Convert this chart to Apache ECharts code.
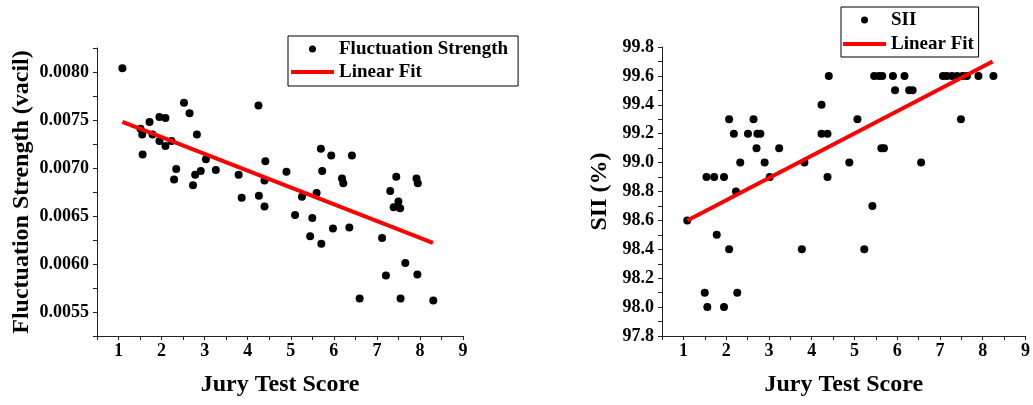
<!DOCTYPE html>
<html>
<head>
<meta charset="utf-8">
<script src="https://cdn.jsdelivr.net/npm/echarts@6/dist/echarts.min.js"></script>
<style>
html,body{margin:0;padding:0;background:#fff;}
#chart{width:1033px;height:405px;}
</style>
</head>
<body>
<div id="chart"></div>
<script>
// ---- Left panel: Fluctuation Strength vs Jury Test Score ----
const fsJury = [1.09,1.51,1.55,1.56,1.72,1.79,1.95,1.95,2.09,2.09,2.23,2.29,2.34,2.52,2.65,2.73,2.78,2.82,2.91,3.03,3.26,3.79,3.86,4.25,4.26,4.39,4.39,4.41,4.90,5.10,5.26,5.45,5.50,5.60,5.70,5.71,5.73,5.94,5.98,6.19,6.22,6.36,6.42,6.60,7.12,7.21,7.31,7.39,7.45,7.50,7.54,7.55,7.66,7.92,7.94,7.95,8.31];
const fsValue = [0.00804,0.00741,0.00735,0.00714,0.00748,0.00735,0.00753,0.00728,0.00752,0.00723,0.00728,0.00688,0.00699,0.00768,0.00757,0.00682,0.00693,0.00735,0.00697,0.00709,0.00698,0.00693,0.00669,0.00765,0.00671,0.00660,0.00687,0.00707,0.00696,0.00651,0.00670,0.00629,0.00648,0.00674,0.00720,0.00621,0.00697,0.00713,0.00637,0.00689,0.00684,0.00638,0.00713,0.00564,0.00627,0.00588,0.00676,0.00659,0.00691,0.00665,0.00658,0.00564,0.00601,0.00689,0.00589,0.00684,0.00562];
const fsFitX = [1.09, 8.30];
const fsFitY = [0.00748, 0.00622];

// ---- Right panel: SII vs Jury Test Score ----
const siiJury = [1.09,1.50,1.54,1.56,1.72,1.78,1.95,1.95,2.07,2.07,2.18,2.23,2.26,2.33,2.51,2.64,2.71,2.73,2.80,2.90,3.02,3.24,3.77,3.83,4.23,4.23,4.37,4.37,4.40,4.88,5.07,5.23,5.42,5.46,5.57,5.65,5.63,5.69,5.90,5.95,6.17,6.28,6.36,6.56,7.07,7.16,7.28,7.40,7.49,7.53,7.63,7.90,8.25];
const siiValue = [98.6,98.1,98.9,98.0,98.9,98.5,98.9,98.0,99.3,98.4,99.2,98.8,98.1,99.0,99.2,99.3,99.1,99.2,99.2,99.0,98.9,99.1,98.4,99.0,99.4,99.2,99.2,98.9,99.6,99.0,99.3,98.4,98.7,99.6,99.6,99.6,99.1,99.1,99.6,99.5,99.6,99.5,99.5,99.0,99.6,99.6,99.6,99.6,99.3,99.6,99.6,99.6,99.6];
const siiFitX = [1.09, 8.23];
const siiFitY = [98.60, 99.70];

const xTickLabels = [1,2,3,4,5,6,7,8,9];

const FONT = "'Liberation Serif','Times New Roman',serif";
const zip = (a, b) => a.map((v, i) => [v, b[i]]);
const LINE_ICON = 'path://M0,0H43V4H0Z';

function xAxisCfg(gridIndex) {
  return {
    gridIndex, type: 'value', min: 0.5, max: 9, interval: 0.5,
    name: 'Jury Test Score', nameLocation: 'middle', nameGap: 37,
    nameTextStyle: {fontFamily: FONT, fontWeight: 'bold', fontSize: 24, color: '#000'},
    axisLine: {show: true, onZero: false, lineStyle: {color: '#222', width: 1}},
    axisTick: {show: true, length: 4, lineStyle: {color: '#222'}},
    splitLine: {show: false},
    axisLabel: {
      fontFamily: FONT, fontWeight: 'bold', fontSize: 18, color: '#000', margin: 6,
      showMinLabel: true, showMaxLabel: true,
      formatter: v => (xTickLabels.indexOf(Math.round(v * 100) / 100) >= 0 ? String(Math.round(v)) : '')
    }
  };
}

const option = {
  animation: false,
  backgroundColor: '#fff',
  grid: [
    {left: 97, top: 48, width: 366, height: 288},
    {left: 662, top: 47, width: 367, height: 289}
  ],
  xAxis: [xAxisCfg(0), xAxisCfg(1)],
  yAxis: [
    {
      gridIndex: 0, type: 'value', min: 0.00525, max: 0.00825, interval: 0.00025,
      name: 'Fluctuation Strength (vacil)', nameLocation: 'middle', nameGap: 63,
      nameTextStyle: {fontFamily: FONT, fontWeight: 'bold', fontSize: 24, color: '#000'},
      axisLine: {show: true, onZero: false, lineStyle: {color: '#222', width: 1}},
      axisTick: {show: true, length: 4, lineStyle: {color: '#222'}},
      splitLine: {show: false},
      axisLabel: {
        fontFamily: FONT, fontWeight: 'bold', fontSize: 18, color: '#000', margin: 8,
        formatter: v => { const k = v / 0.0005; return Math.abs(k - Math.round(k)) < 1e-6 ? v.toFixed(4) : ''; }
      }
    },
    {
      gridIndex: 1, type: 'value', min: 97.8, max: 99.8, interval: 0.1,
      name: 'SII (%)', nameLocation: 'middle', nameGap: 50,
      nameTextStyle: {fontFamily: FONT, fontWeight: 'bold', fontSize: 24, color: '#000'},
      axisLine: {show: true, onZero: false, lineStyle: {color: '#222', width: 1}},
      axisTick: {show: true, length: 4, lineStyle: {color: '#222'}},
      splitLine: {show: false},
      axisLabel: {
        fontFamily: FONT, fontWeight: 'bold', fontSize: 18, color: '#000', margin: 8,
        showMinLabel: true, showMaxLabel: true,
        formatter: v => (Math.round(v * 10) % 2 === 0 ? v.toFixed(1) : '')
      }
    }
  ],
  legend: [
    {
      data: ['Fluctuation Strength', {name: 'Linear Fit', icon: LINE_ICON}],
      orient: 'vertical', left: 288, top: 36,
      padding: [3, 10, 4, 3], itemGap: 3,
      itemWidth: 43, itemHeight: 7,
      borderColor: '#000', borderWidth: 1, borderRadius: 0,
      textStyle: {fontFamily: FONT, fontWeight: 'bold', fontSize: 19, color: '#000', lineHeight: 20},
      selectedMode: false
    },
    {
      data: ['SII', {name: 'Linear Fit ', icon: LINE_ICON}],
      orient: 'vertical', left: 841, top: 7,
      padding: [3, 0, 3, 2], itemGap: 4,
      itemWidth: 43, itemHeight: 7,
      borderColor: '#000', borderWidth: 1, borderRadius: 0,
      textStyle: {fontFamily: FONT, fontWeight: 'bold', fontSize: 19, color: '#000', lineHeight: 20},
      selectedMode: false
    }
  ],
  series: [
    {
      name: 'Fluctuation Strength', type: 'scatter', xAxisIndex: 0, yAxisIndex: 0,
      symbol: 'circle', symbolSize: 8, itemStyle: {color: '#000', opacity: 1},
      data: zip(fsJury, fsValue)
    },
    {
      name: 'Linear Fit', type: 'line', xAxisIndex: 0, yAxisIndex: 0,
      symbol: 'none', lineStyle: {color: '#ff0000', width: 4}, itemStyle: {color: '#ff0000'},
      data: zip(fsFitX, fsFitY), z: 3
    },
    {
      name: 'SII', type: 'scatter', xAxisIndex: 1, yAxisIndex: 1,
      symbol: 'circle', symbolSize: 8, itemStyle: {color: '#000', opacity: 1},
      data: zip(siiJury, siiValue)
    },
    {
      name: 'Linear Fit ', type: 'line', xAxisIndex: 1, yAxisIndex: 1,
      symbol: 'none', lineStyle: {color: '#ff0000', width: 4}, itemStyle: {color: '#ff0000'},
      data: zip(siiFitX, siiFitY), z: 3
    }
  ]
};

const chart = echarts.init(document.getElementById('chart'), null, {renderer: 'canvas'});
chart.setOption(option);
</script>
</body>
</html>
